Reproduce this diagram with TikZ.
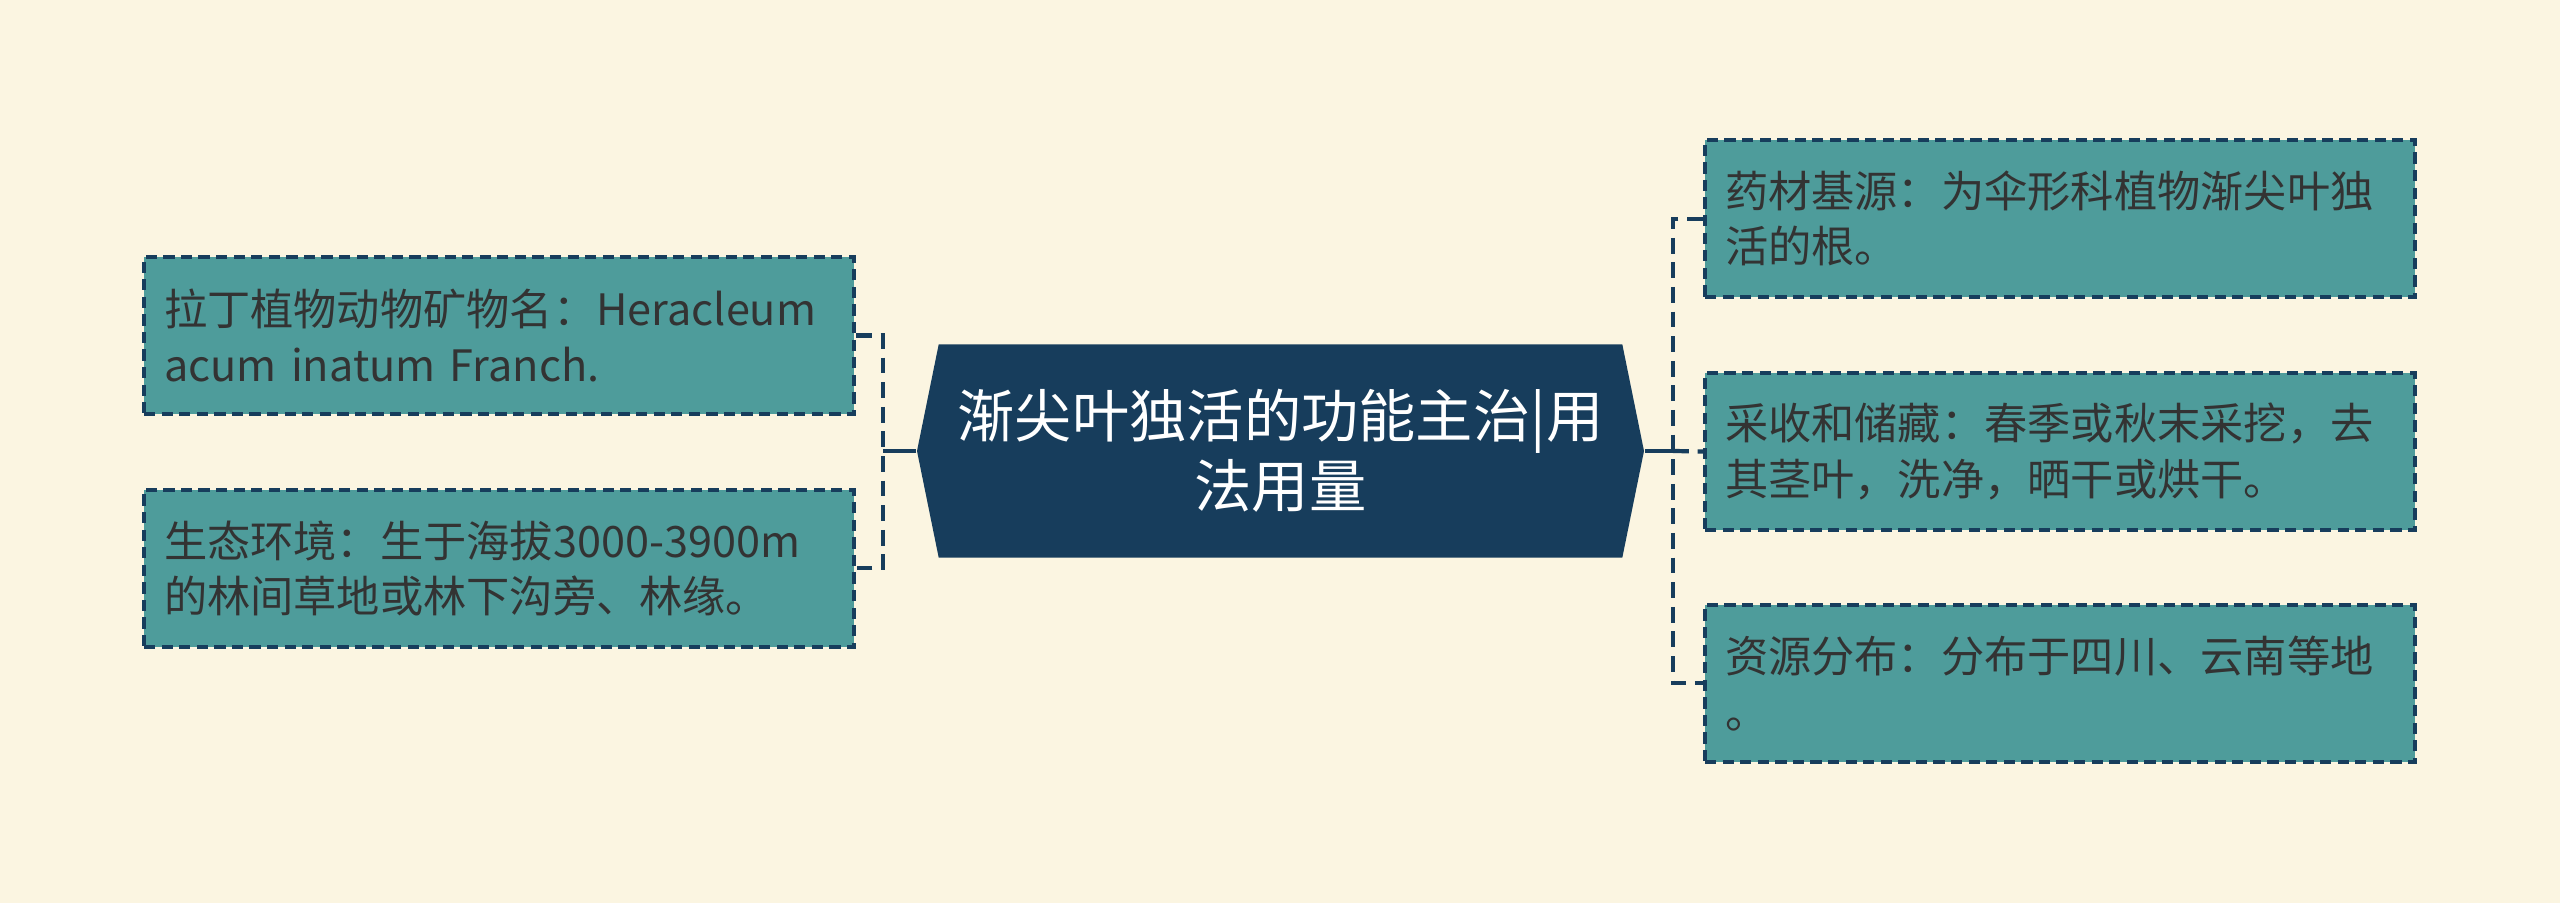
\documentclass[tikz,border=0pt]{standalone}
\usepackage{fontspec}
\newfontfamily\cjk{Noto Sans CJK SC}
\usetikzlibrary{shapes.symbols,positioning}
\definecolor{bgcol}{HTML}{FBF5E1}
\definecolor{navy}{HTML}{173D5C}
\definecolor{leafcol}{HTML}{4E9C9B}
\definecolor{textcol}{HTML}{333333}
\tikzstyle{hub} = [signal,signal to=west and east,signal pointer angle=157,fill=navy,text=white,minimum width=7.27cm,minimum height=2.13cm,inner sep=0,align=center,font=\cjk\fontsize{16.3}{19.9}\selectfont]
\tikzstyle{leaf} = [draw=navy,line width=1.1pt,dash pattern=on 3.2pt off 1.8pt,fill=leafcol,text=textcol,text width=6.70cm,inner xsep=0.20cm,minimum height=1.57cm,align=left,font=\cjk\fontsize{12.3}{15.8}\selectfont]
\tikzstyle{link} = [navy,line width=1.4pt]
\tikzstyle{bracket} = [navy,line width=1.2pt,dash pattern=on 4.5pt off 2.5pt]

\begin{document}
\begin{tikzpicture}
      \fill[bgcol] (0,0) rectangle (25.6,9.03);
      \useasboundingbox (0,0) rectangle (25.6,9.03);
      \node[hub] (c) at (12.805,4.52) {渐尖叶独活的功能主治|用\\法用量};
      % left side
      \node[leaf] (l1) at (4.99,5.675) {拉丁植物动物矿物名：Heracleum\\acum inatum Franch.};
      \node[leaf,below=0.72cm of l1] (l2) {生态环境：生于海拔3000-3900m\\的林间草地或林下沟旁、林缘。};
      \coordinate (lj) at (8.83,4.52);
      \draw[link] (c.west) -- (lj);
      \draw[bracket] (l1.east) -| (lj) |- (l2.east);
      % right side
      \node[leaf] (r2) at (20.60,4.515) {采收和储藏：春季或秋末采挖，去\\其茎叶，洗净，晒干或烘干。};
      \node[leaf,above=0.72cm of r2] (r1) {药材基源：为伞形科植物渐尖叶独\\活的根。};
      \node[leaf,below=0.71cm of r2] (r3) {资源分布：分布于四川、云南等地\\。};
      \coordinate (rj) at (16.73,4.52);
      \draw[link] (c.east) -- (rj);
      \draw[bracket] (r1.west) -| (rj) |- (r3.west);
      \draw[bracket] (rj) -- (r2.west);
    \end{tikzpicture}
\end{document}
